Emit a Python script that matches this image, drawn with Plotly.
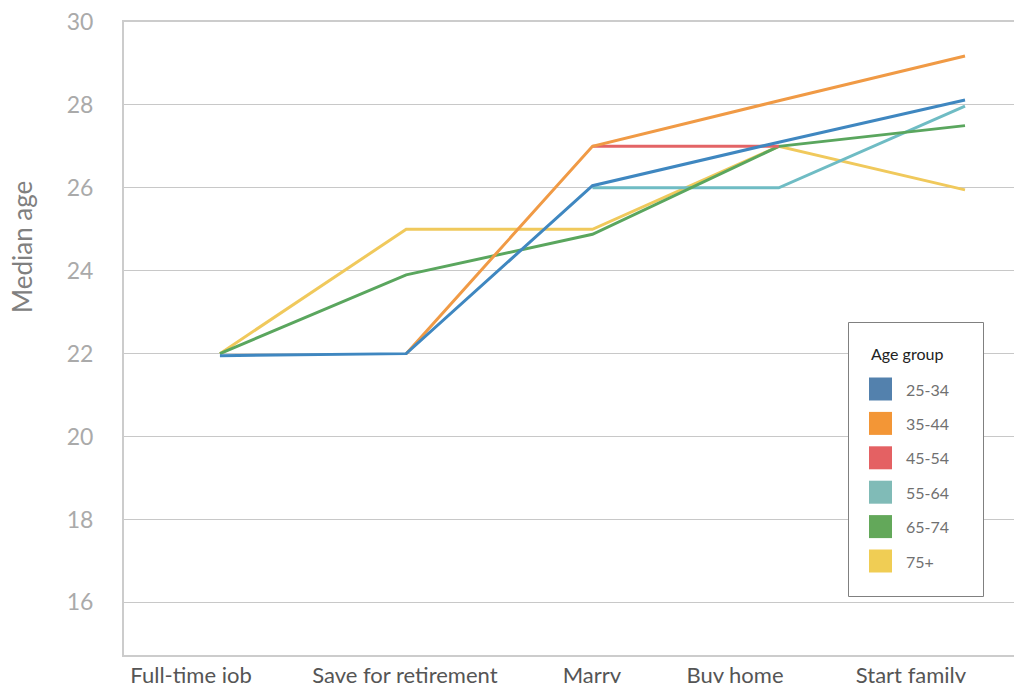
import plotly.graph_objects as go

categories = ["Full-time job", "Save for retirement", "Marry", "Buy home", "Start family"]
groups = ["25-34", "35-44", "45-54", "55-64", "65-74", "75+"]
v_25_34 = [21.95, 22.0, 26.05, 27.1, 28.12]
v_35_44 = [None, 22.0, 27.0, 28.1, 29.18]
v_45_54 = [None, None, 27.0, 27.0, None]
v_55_64 = [None, None, 26.0, 26.0, 27.97]
v_65_74 = [22.0, 23.9, 24.88, 27.0, 27.5]
v_75p = [22.0, 25.0, 25.0, 27.0, 25.95]
series = [v_25_34, v_35_44, v_45_54, v_55_64, v_65_74, v_75p]
line_colors = ["#3f87c0", "#f09a45", "#e36466", "#6fbcc4", "#5aa65e", "#f0c95c"]
legend_colors = ["#5381ad", "#f39636", "#e46163", "#80bbb7", "#63a85a", "#f0cd54"]
y_ticks = [16, 18, 20, 22, 24, 26, 28, 30]
# tick label positions on the category index scale (labels sit off-centre in the reference)
x_label_pos = [-0.155, 0.993, 1.997, 2.765, 3.71]

FONT = "Lato"
W, H = 1014, 683
L, R, T, B = 124, 0, 22, 28
pw, ph = W - L - R, H - T - B

def px(x):
    return (x - L) / pw

def py(y):
    return (H - B - y) / ph

fig = go.Figure()
draw_order = [5, 3, 4, 2, 1, 0]
xs = list(range(len(categories)))
for i in draw_order:
    fig.add_trace(go.Scatter(
        x=xs, y=series[i], mode="lines", name=groups[i],
        line=dict(color=line_colors[i], width=3), connectgaps=False,
        showlegend=False, hoverinfo="skip"))

shapes = []
annotations = []
# legend box
shapes.append(dict(type="rect", xref="paper", yref="paper",
                   x0=px(848.5), x1=px(983.5), y0=py(596.5), y1=py(322.5),
                   line=dict(color="#808080", width=1), fillcolor="white", layer="above"))
annotations.append(dict(xref="paper", yref="paper", x=px(869), y=py(353), text="Age group",
                        showarrow=False, xanchor="left", yanchor="middle",
                        font=dict(family=FONT, size=16, color="#222222")))
for k, g in enumerate(groups):
    yc = 389 + k * 34.4
    shapes.append(dict(type="rect", xref="paper", yref="paper",
                       x0=px(869), x1=px(892), y0=py(yc + 11.5), y1=py(yc - 11.5),
                       line=dict(width=0), fillcolor=legend_colors[k], layer="above"))
    annotations.append(dict(xref="paper", yref="paper", x=px(904), y=py(yc), text=g,
                            showarrow=False, xanchor="left", yanchor="middle",
                            font=dict(family=FONT, size=16, color="#707070")))
# y-axis title
annotations.append(dict(xref="paper", yref="paper", x=px(22), y=py(247), text="Median age",
                        showarrow=False, textangle=-90, xanchor="center", yanchor="middle",
                        font=dict(family=FONT, size=26, color="#808080")))

fig.update_layout(
    width=W, height=H,
    margin=dict(l=L, r=R, t=T, b=B, autoexpand=False),
    paper_bgcolor="white", plot_bgcolor="white",
    shapes=shapes, annotations=annotations,
    showlegend=False,
    xaxis=dict(range=[-0.515, 4.263], tickmode="array", tickvals=x_label_pos, ticktext=categories,
               showgrid=False, zeroline=False, showline=True, mirror=True,
               linecolor="#cccccc", linewidth=2, ticks="", automargin=False,
               ticklabelstandoff=0,
               tickfont=dict(family=FONT, size=22, color="#555555")),
    yaxis=dict(range=[14.73, 30.0], tickmode="array", tickvals=y_ticks,
               showgrid=True, gridcolor="#c8c8c8", gridwidth=1, zeroline=False,
               showline=True, linecolor="#cccccc", linewidth=2, ticks="", automargin=False,
               ticklabelstandoff=24,
               tickfont=dict(family=FONT, size=23, color="#aaaaaa")),
)
fig.write_html("out.html", config={"displayModeBar": False},
               post_script="document.body.style.margin='0';document.body.style.overflow='hidden';")
